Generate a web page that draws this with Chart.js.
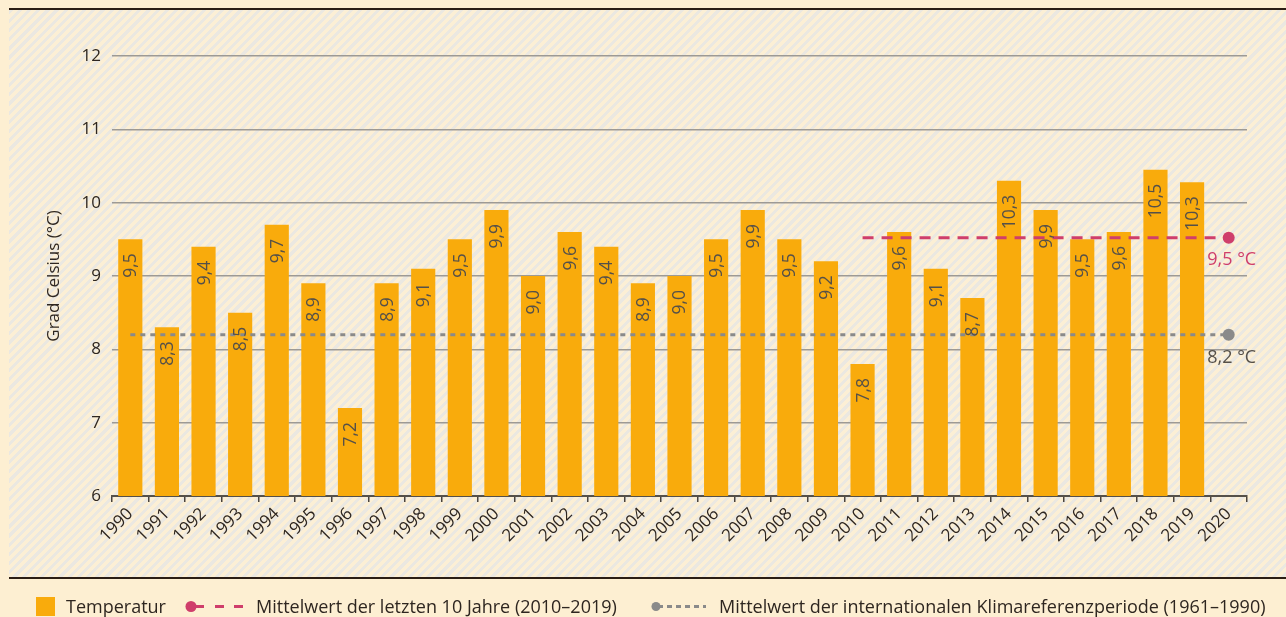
<!DOCTYPE html>
<html>
<head>
<meta charset="utf-8">
<script src="https://cdn.jsdelivr.net/npm/chart.js@4.4.1/dist/chart.umd.min.js"></script>
<style>
  html, body { margin:0; padding:0; width:1286px; height:617px; overflow:hidden; background:#fdefd2; }
  body { font-family: "Open Sans", Lato, sans-serif; color:#2e2620; }
  #panel { position:absolute; left:9px; top:8px; width:1277px; height:571px; box-sizing:border-box;
    border-top:2px solid #2b1e14; border-bottom:2px solid #2b1e14;
    background: repeating-linear-gradient(135deg, #ebe8e1 0px, #ebe8e1 3px, #fcefd5 3px, #fcefd5 6.5px); }
  #c { position:absolute; left:0; top:0; }
  .lg { position:absolute; top:594px; font-size:18px; line-height:24px; white-space:nowrap; }
  .ic { position:absolute; top:596px; }
</style>
</head>
<body>
<div id="panel"></div>
<canvas id="c" width="1286" height="617"></canvas>

<svg class="ic" style="left:36px" width="20" height="20"><rect x="0" y="1" width="19" height="19" fill="#f9ab0c"/></svg>
<div class="lg" style="left:66px">Temperatur</div>

<svg class="ic" style="left:180px" width="70" height="20">
  <circle cx="11" cy="10.5" r="5.5" fill="#cf3e6b"/>
  <line x1="11" y1="10.5" x2="24" y2="10.5" stroke="#cf3e6b" stroke-width="3"/>
  <line x1="35" y1="10.5" x2="44" y2="10.5" stroke="#cf3e6b" stroke-width="3"/>
  <line x1="54" y1="10.5" x2="63" y2="10.5" stroke="#cf3e6b" stroke-width="3"/>
</svg>
<div class="lg" style="left:256px">Mittelwert der letzten 10 Jahre (2010–2019)</div>

<svg class="ic" style="left:645px" width="70" height="20">
  <circle cx="11" cy="10.5" r="4.5" fill="#8a8a8a"/>
  <line x1="11" y1="10.5" x2="18" y2="10.5" stroke="#8a8a8a" stroke-width="3"/>
  <line x1="22" y1="10.5" x2="61" y2="10.5" stroke="#8a8a8a" stroke-width="3" stroke-dasharray="5 4"/>
</svg>
<div class="lg" style="left:719px">Mittelwert der internationalen Klimareferenzperiode (1961–1990)</div>

<script>
// ---- data ----
const years = ['1990','1991','1992','1993','1994','1995','1996','1997','1998','1999',
               '2000','2001','2002','2003','2004','2005','2006','2007','2008','2009',
               '2010','2011','2012','2013','2014','2015','2016','2017','2018','2019','2020'];
const temperatures = [9.5, 8.3, 9.4, 8.5, 9.7, 8.9, 7.2, 8.9, 9.1, 9.5,
                      9.9, 9.0, 9.6, 9.4, 8.9, 9.0, 9.5, 9.9, 9.5, 9.2,
                      7.8, 9.6, 9.1, 8.7, 10.3, 9.9, 9.5, 9.6, 10.45, 10.28];
const temperatureLabels = ['9,5','8,3','9,4','8,5','9,7','8,9','7,2','8,9','9,1','9,5',
                           '9,9','9,0','9,6','9,4','8,9','9,0','9,5','9,9','9,5','9,2',
                           '7,8','9,6','9,1','8,7','10,3','9,9','9,5','9,6','10,5','10,3'];
const recentMean = 9.52;          // Mittelwert 2010–2019
const recentMeanLabel = '9,5 °C';
const recentStartYear = '2010';
const referenceMean = 8.2;        // Klimareferenzperiode 1961–1990
const referenceMeanLabel = '8,2 °C';
const yTicks = [6, 7, 8, 9, 10, 11, 12];

// ---- derived series ----
const startIdx = years.indexOf(recentStartYear);
const recentSeries = years.map((y, i) => i >= startIdx ? recentMean : null);
const referenceSeries = years.map(() => referenceMean);
const lastIdx = years.length - 1;

const FONT = '"Open Sans", Lato, sans-serif';
const PINK = '#cf3e6b';
const GREY = '#8a8a8a';
const BAR = '#f9ab0c';

const labelPlugin = {
  id: 'valueLabels',
  afterDatasetsDraw(chart) {
    const ctx = chart.ctx;
    const barMeta = chart.getDatasetMeta(2);
    ctx.save();
    ctx.font = '17.5px ' + FONT;
    ctx.fillStyle = '#555049';
    barMeta.data.forEach((el, i) => {
      if (temperatures[i] == null) return;
      ctx.save();
      ctx.translate(el.x + 1, el.y + 14);
      ctx.rotate(-Math.PI / 2);
      ctx.textAlign = 'right';
      ctx.textBaseline = 'middle';
      ctx.fillText(temperatureLabels[i], 0, 0);
      ctx.restore();
    });
    const pm = chart.getDatasetMeta(0).data[lastIdx];
    const gm = chart.getDatasetMeta(1).data[lastIdx];
    ctx.font = '18px ' + FONT;
    ctx.textAlign = 'center';
    ctx.textBaseline = 'middle';
    ctx.fillStyle = PINK;
    ctx.fillText(recentMeanLabel, pm.x + 3, pm.y + 22);
    ctx.fillStyle = '#555049';
    ctx.fillText(referenceMeanLabel, gm.x + 3, gm.y + 23);
    ctx.restore();
  }
};

new Chart(document.getElementById('c'), {
  data: {
    labels: years,
    datasets: [
      {
        type: 'line', label: 'Mittelwert der letzten 10 Jahre (2010–2019)',
        data: recentSeries, borderColor: PINK, backgroundColor: PINK,
        borderWidth: 3, borderDash: [11, 8], fill: false, tension: 0,
        pointRadius: c => c.dataIndex === lastIdx ? 6 : 0, pointBorderWidth: 0,
        pointBackgroundColor: PINK, order: 1
      },
      {
        type: 'line', label: 'Mittelwert der internationalen Klimareferenzperiode (1961–1990)',
        data: referenceSeries, borderColor: GREY, backgroundColor: GREY,
        borderWidth: 3, borderDash: [5, 5], fill: false, tension: 0,
        pointRadius: c => c.dataIndex === lastIdx ? 6 : 0, pointBorderWidth: 0,
        pointBackgroundColor: GREY, order: 1
      },
      {
        type: 'bar', label: 'Temperatur', data: temperatures,
        backgroundColor: BAR, borderWidth: 0,
        barPercentage: 0.66, categoryPercentage: 1.0, order: 2
      }
    ]
  },
  options: {
    responsive: false,
    animation: false,
    devicePixelRatio: 1,
    layout: { padding: { left: 0, right: 39, top: 56, bottom: 0 } },
    plugins: { legend: { display: false }, tooltip: { enabled: false } },
    scales: {
      x: {
        grid: { display: true, drawOnChartArea: false, drawTicks: true, tickLength: 6,
                color: '#4a443e', lineWidth: 1.5, offset: true },
        border: { display: true, color: '#555049', width: 2 },
        ticks: { maxRotation: 45, minRotation: 45, autoSkip: false, padding: 2,
                 color: '#2e2620', font: { family: FONT, size: 17 } },
        afterFit(s) { s.height = 121; }
      },
      y: {
        min: 6, max: 12,
        afterBuildTicks(s) { s.ticks = yTicks.map(v => ({ value: v })); },
        ticks: { padding: 11, color: '#2e2620', font: { family: FONT, size: 17 } },
        grid: { color: '#9d9a95', lineWidth: 1.5, drawTicks: false },
        border: { display: false },
        title: { display: true, text: 'Grad Celsius (°C)', color: '#2e2620',
                 font: { family: FONT, size: 17 }, padding: { top: 44, bottom: 0 } },
        afterFit(s) { s.width = 112; }
      }
    }
  },
  plugins: [labelPlugin]
});
</script>
</body>
</html>
